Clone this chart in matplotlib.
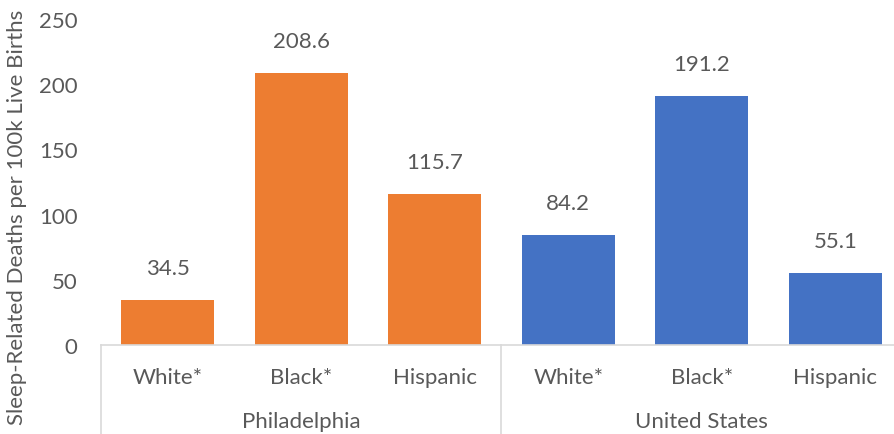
import matplotlib.pyplot as plt

# Data
groups = ["Philadelphia", "United States"]
races = ["White*", "Black*", "Hispanic"]
philly = [34.5, 208.6, 115.7]
us = [84.2, 191.2, 55.1]

orange = "#ED7D31"
blue = "#4472C4"
txt = "#595959"
grid = "#D9D9D9"
fs = 16

plt.rcParams['font.family'] = ['Lato', 'DejaVu Sans']

fig = plt.figure(figsize=(8.94, 4.35), dpi=100)
ax = fig.add_axes([101 / 894, 89 / 435, 801 / 894, 326 / 435])

values = philly + us
colors = [orange] * 3 + [blue] * 3
xs = list(range(len(values)))
bars = ax.bar(xs, values, width=0.70, color=colors)

for x, v in zip(xs, values):
    ax.annotate(f"{v:.1f}", (x, v), xytext=(0, 23), textcoords="offset points",
                ha="center", va="center", fontsize=fs, color=txt)

ax.set_xlim(-0.5, 5.5)
ax.set_ylim(0, 250)
ax.set_yticks(range(0, 251, 50))
ax.tick_params(axis="y", length=0, labelsize=fs, labelcolor=txt, pad=17)
ax.set_xticks(xs)
ax.set_xticklabels(races * 2)
ax.tick_params(axis="x", length=0, labelsize=fs, labelcolor=txt, pad=16)

for s in ["top", "right", "left"]:
    ax.spines[s].set_visible(False)
ax.spines["bottom"].set_color(grid)
ax.spines["bottom"].set_linewidth(1.2)

# group separators and labels
tr = ax.get_xaxis_transform()
for sx in [-0.5, 2.5, 5.5]:
    ax.plot([sx, sx], [0, -0.3], transform=tr, color=grid, lw=1.2, clip_on=False)
for i, g in enumerate(groups):
    ax.text(1 + 3 * i, -0.233, g, transform=tr, ha="center", va="center",
            fontsize=fs, color=txt)

fig.text(17 / 894, 0.5, "Sleep-Related Deaths per 100k Live Births", rotation=90,
         ha="center", va="center", fontsize=fs, color=txt)

fig.savefig("out.png", dpi=100)
